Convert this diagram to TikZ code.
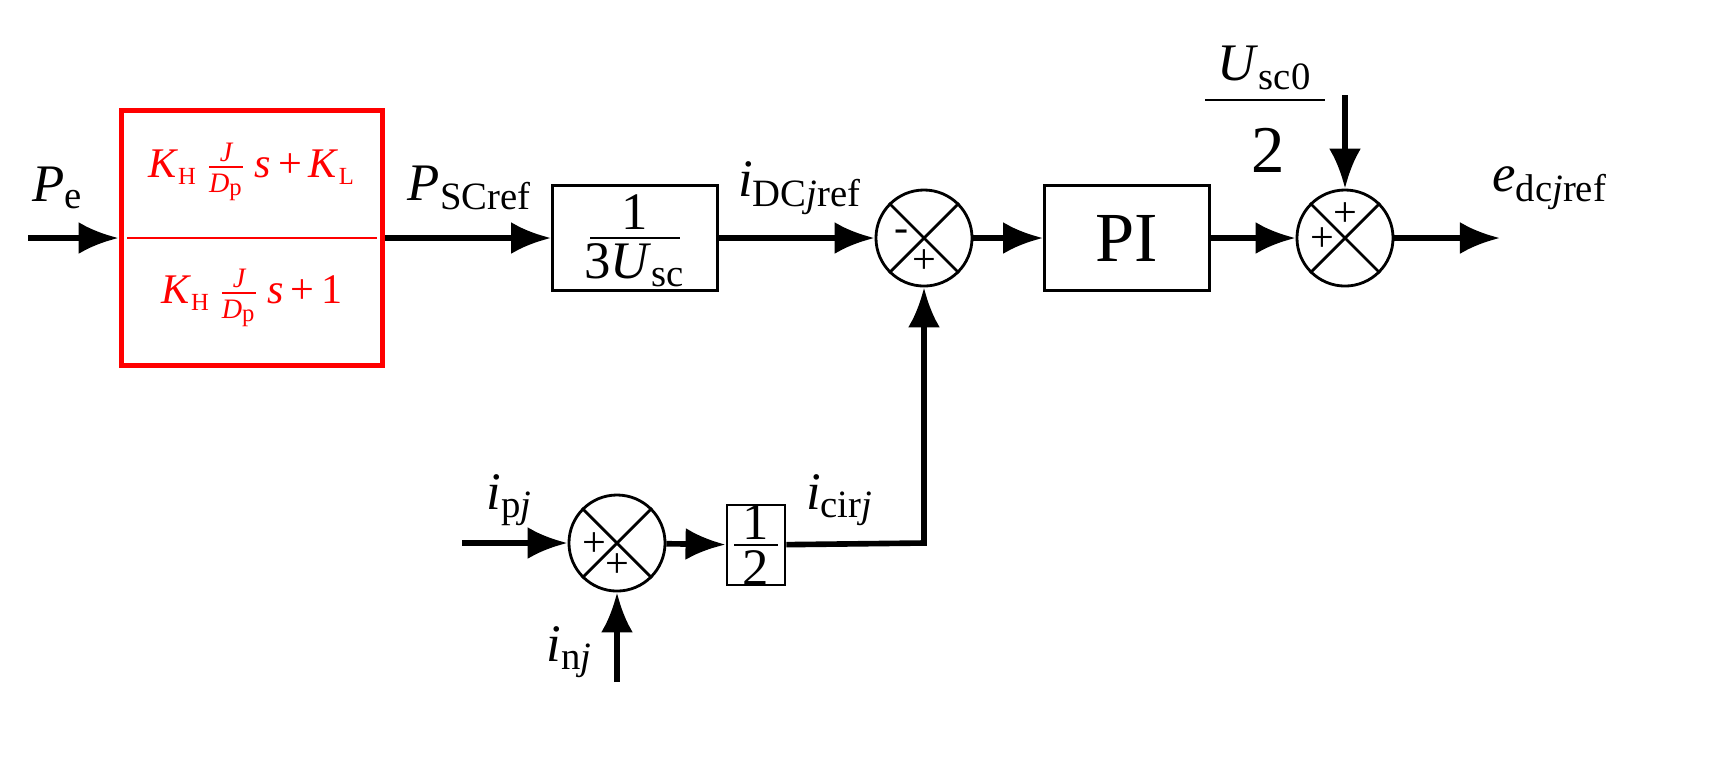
\documentclass[tikz,border=0pt]{standalone}
\usepackage{amsmath}
\usepackage{fontspec}
\setmainfont{Liberation Serif}
\usetikzlibrary{arrows.meta}
\tikzset{
  blk/.style={draw, thick, minimum width=1.65cm, minimum height=1.05cm},
  sum/.style={draw, thick, circle, minimum size=0.96cm, inner sep=0pt},
  sig/.style={-{Latex[length=0.4cm,width=0.32cm]}, line width=1.6pt},
  lbl/.style={font=\fontsize{15}{18}\selectfont},
  pm/.style={font=\fontsize{12}{14}\selectfont, inner sep=0pt}
}
\newcommand{\sub}[1]{\textsubscript{\fontsize{11}{13}\selectfont #1}}
\newcommand{\lfr}[1]{\textit{K}\textsubscript{\fontsize{7}{8}\selectfont H}\,%
  $\genfrac{}{}{0.5pt}{}{\textit{J}}{\textit{D}\textsubscript{\fontsize{7}{8}\selectfont p}}$\,\textit{s}\,+\,#1}
\begin{document}
\begin{tikzpicture}[x=0.01cm,y=-0.01cm]
  \useasboundingbox (0,0) rectangle (1724,759);
  % red block
  \node[draw=red, line width=1.6pt, minimum width=2.61cm, minimum height=2.55cm] (lead) at (252,238) {};
  \draw[red, thick] (127,238) -- (377,238);
  \node[red, font=\fontsize{12}{14}\selectfont] (num) at (252,172) {\lfr{\textit{K}\textsubscript{\fontsize{7}{8}\selectfont L}}};
  \node[red, font=\fontsize{12}{14}\selectfont] (den) at (252,298) {\lfr{1}};
  % blocks
  \node[blk] (g1) at (635,238) {};
  \node[lbl] (g1n) at (635,212) {1};
  \draw[thick] (590,238) -- (680,238);
  \node[lbl] (g1d) at (635,265) {3\textit{U}\sub{sc}};
  \node[blk, font=\fontsize{20}{24}\selectfont] (pi) at (1127,238) {PI};
  \node[draw, thick, minimum width=0.58cm, minimum height=0.8cm] (half) at (756,545) {};
  \node[lbl] (hn) at (756,522) {1};
  \draw[thick] (734,545) -- (778,545);
  \node[lbl] (hd) at (756,568) {2};
  % sums
  \foreach \n/\x/\y in {s1/924/238, s2/1345/238, s3/617/543} {
    \node[sum] (\n) at (\x,\y) {};
    \draw[thick] (\n.north west) -- (\n.south east) (\n.north east) -- (\n.south west);
  }
  \node[pm] at (902,236) {-};
  \node[pm] at (924,262) {+};
  \node[pm] at (1345,215) {+};
  \node[pm] at (1322,240) {+};
  \node[pm] at (594,545) {+};
  \node[pm] at (617,566) {+};
  % inputs
  \coordinate (pin) at (28,238);
  \coordinate (eout) at (1500,238);
  \coordinate (ipin) at (462,543);
  \coordinate (inin) at (617,682);
  \coordinate (uin) at (1345,95);
  \coordinate (cor) at (924,543);
  % connectors
  \draw[sig] (pin) -- (lead);
  \draw[sig] (lead) -- (g1);
  \draw[sig] (g1) -- (s1);
  \draw[sig] (s1) -- (pi);
  \draw[sig] (pi) -- (s2);
  \draw[sig] (s2) -- (eout);
  \draw[sig] (uin) -- (s2);
  \draw[sig] (ipin) -- (s3);
  \draw[sig] (inin) -- (s3);
  \draw[sig] (s3) -- (half);
  \draw[sig] (half) -- (cor) -- (s1);
  % labels
  \node[lbl] at (58,188) {\textit{P}\sub{e}};
  \node[lbl] at (470,188) {\textit{P}\sub{SCref}};
  \node[lbl] at (800,188) {\textit{i}\sub{DC\textit{j}ref}};
  \node[lbl] at (1550,188) {\textit{e}\sub{dc\textit{j}ref}};
  \node[lbl] at (1265,68) {\textit{U}\sub{sc0}};
  \draw[thick] (1205,100) -- (1325,100);
  \node[font=\fontsize{19}{22}\selectfont] at (1268,150) {2};
  \node[lbl] at (510,500) {\textit{i}\sub{p\textit{j}}};
  \node[lbl] at (570,652) {\textit{i}\sub{n\textit{j}}};
  \node[lbl] at (840,500) {\textit{i}\sub{cir\textit{j}}};
\end{tikzpicture}
\end{document}
